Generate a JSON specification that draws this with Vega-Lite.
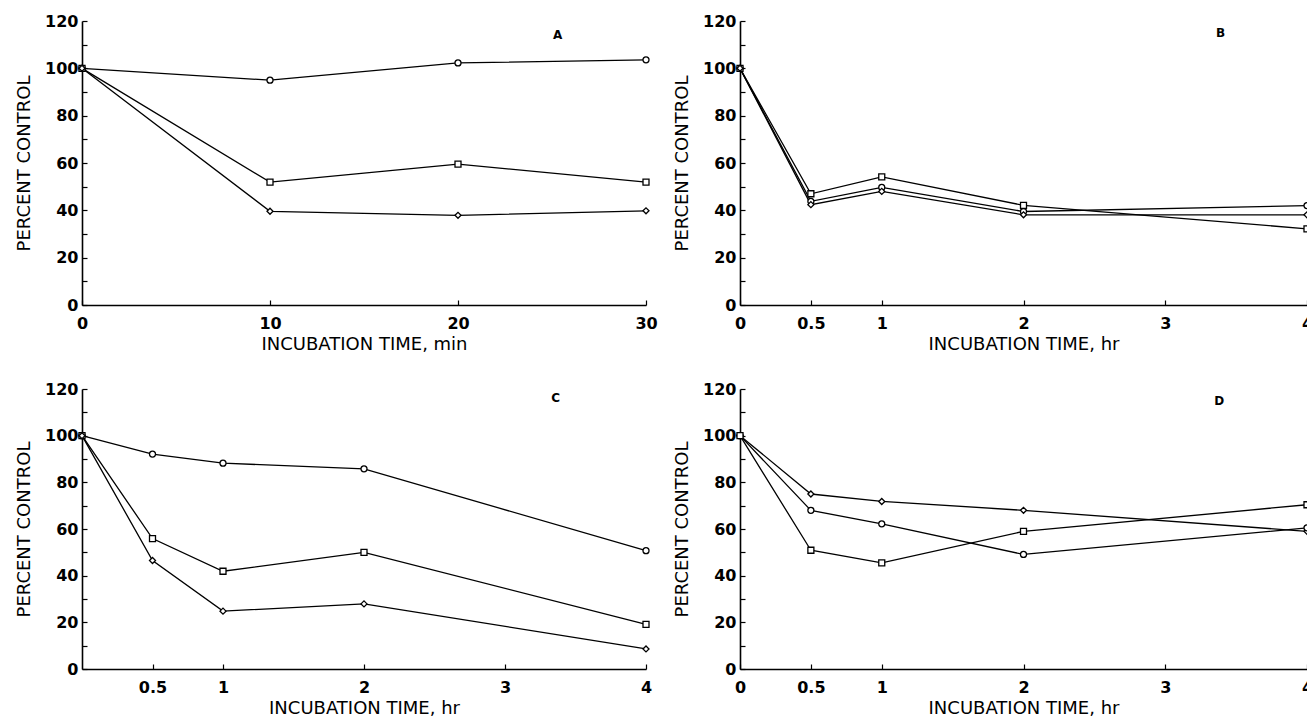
{
  "$schema": "https://vega.github.io/schema/vega-lite/v6.json",
  "background": "white",
  "padding": {"left": 15, "top": 13, "right": 0, "bottom": 0},
  "datasets": {
    "pts": [
      {"panel": "A", "series": "a", "time": 0, "pct": 100},
      {"panel": "A", "series": "a", "time": 10, "pct": 95.0},
      {"panel": "A", "series": "a", "time": 20, "pct": 102.3},
      {"panel": "A", "series": "a", "time": 30, "pct": 103.6},
      {"panel": "A", "series": "b", "time": 0, "pct": 100},
      {"panel": "A", "series": "b", "time": 10, "pct": 51.9},
      {"panel": "A", "series": "b", "time": 20, "pct": 59.5},
      {"panel": "A", "series": "b", "time": 30, "pct": 51.9},
      {"panel": "A", "series": "c", "time": 0, "pct": 100},
      {"panel": "A", "series": "c", "time": 10, "pct": 39.6},
      {"panel": "A", "series": "c", "time": 20, "pct": 37.9},
      {"panel": "A", "series": "c", "time": 30, "pct": 39.8},
      {"panel": "B", "series": "a", "time": 0, "pct": 100},
      {"panel": "B", "series": "a", "time": 0.5, "pct": 43.8},
      {"panel": "B", "series": "a", "time": 1, "pct": 49.7},
      {"panel": "B", "series": "a", "time": 2, "pct": 39.5},
      {"panel": "B", "series": "a", "time": 4, "pct": 42.0},
      {"panel": "B", "series": "b", "time": 0, "pct": 100},
      {"panel": "B", "series": "b", "time": 0.5, "pct": 47.0},
      {"panel": "B", "series": "b", "time": 1, "pct": 54.1},
      {"panel": "B", "series": "b", "time": 2, "pct": 42.1},
      {"panel": "B", "series": "b", "time": 4, "pct": 32.2},
      {"panel": "B", "series": "c", "time": 0, "pct": 100},
      {"panel": "B", "series": "c", "time": 0.5, "pct": 42.4},
      {"panel": "B", "series": "c", "time": 1, "pct": 48.0},
      {"panel": "B", "series": "c", "time": 2, "pct": 38.1},
      {"panel": "B", "series": "c", "time": 4, "pct": 38.1},
      {"panel": "C", "series": "a", "time": 0, "pct": 100},
      {"panel": "C", "series": "a", "time": 0.5, "pct": 92.1},
      {"panel": "C", "series": "a", "time": 1, "pct": 88.2},
      {"panel": "C", "series": "a", "time": 2, "pct": 85.8},
      {"panel": "C", "series": "a", "time": 4, "pct": 50.7},
      {"panel": "C", "series": "b", "time": 0, "pct": 100},
      {"panel": "C", "series": "b", "time": 0.5, "pct": 55.9},
      {"panel": "C", "series": "b", "time": 1, "pct": 41.9},
      {"panel": "C", "series": "b", "time": 2, "pct": 50.0},
      {"panel": "C", "series": "b", "time": 4, "pct": 19.1},
      {"panel": "C", "series": "c", "time": 0, "pct": 100},
      {"panel": "C", "series": "c", "time": 0.5, "pct": 46.5},
      {"panel": "C", "series": "c", "time": 1, "pct": 24.8},
      {"panel": "C", "series": "c", "time": 2, "pct": 27.9},
      {"panel": "C", "series": "c", "time": 4, "pct": 8.6},
      {"panel": "D", "series": "c", "time": 0, "pct": 100},
      {"panel": "D", "series": "c", "time": 0.5, "pct": 75.0},
      {"panel": "D", "series": "c", "time": 1, "pct": 71.8},
      {"panel": "D", "series": "c", "time": 2, "pct": 68.0},
      {"panel": "D", "series": "c", "time": 4, "pct": 59.0},
      {"panel": "D", "series": "a", "time": 0, "pct": 100},
      {"panel": "D", "series": "a", "time": 0.5, "pct": 68.0},
      {"panel": "D", "series": "a", "time": 1, "pct": 62.2},
      {"panel": "D", "series": "a", "time": 2, "pct": 49.1},
      {"panel": "D", "series": "a", "time": 4, "pct": 60.5},
      {"panel": "D", "series": "b", "time": 0, "pct": 100},
      {"panel": "D", "series": "b", "time": 0.5, "pct": 50.9},
      {"panel": "D", "series": "b", "time": 1, "pct": 45.5},
      {"panel": "D", "series": "b", "time": 2, "pct": 59.0},
      {"panel": "D", "series": "b", "time": 4, "pct": 70.4}
    ],
    "tags": [
      {"panel": "A", "time": 25.3, "pct": 114, "text": "A"},
      {"panel": "B", "time": 3.39, "pct": 115, "text": "B"},
      {"panel": "C", "time": 3.36, "pct": 116, "text": "C"},
      {"panel": "D", "time": 3.38, "pct": 115, "text": "D"}
    ]
  },
  "columns": 2,
  "spacing": {"row": 84, "column": 94},
  "bounds": "flush",
  "concat": [
    {
      "width": 564, "height": 284,
      "encoding": {
        "x": {"field": "time", "type": "quantitative", "scale": {"domain": [0, 30], "nice": false}, "axis": {"values": [0, 10, 20, 30], "labelExpr": "'' + datum.value", "title": "INCUBATION TIME, min"}},
        "y": {"field": "pct", "type": "quantitative", "scale": {"domain": [0, 120], "nice": false}, "axis": {"values": [0, 10, 20, 30, 40, 50, 60, 70, 80, 90, 100, 110, 120], "labelExpr": "datum.value % 20 == 0 ? datum.label : ''", "title": "PERCENT CONTROL"}}
      },
      "layer": [
        {"data": {"name": "pts"}, "transform": [{"filter": "datum.panel == 'A'"}], "mark": {"type": "line", "color": "black", "strokeWidth": 1.3}, "encoding": {"detail": {"field": "series"}}},
        {"data": {"name": "pts"}, "transform": [{"filter": "datum.panel == 'A'"}], "mark": {"type": "point", "filled": false, "fill": "white", "fillOpacity": 1, "stroke": "black", "strokeWidth": 1.3, "opacity": 1, "size": 36}, "encoding": {"shape": {"field": "series", "type": "nominal", "scale": {"domain": ["a", "b", "c"], "range": ["circle", "square", "diamond"]}, "legend": null}}},
        {"data": {"name": "tags"}, "transform": [{"filter": "datum.panel == 'A'"}], "mark": {"type": "text", "font": "DejaVu Sans", "fontWeight": "bold", "fontSize": 12, "color": "black"}, "encoding": {"text": {"field": "text"}}}
      ]
    },
    {
      "width": 567, "height": 284,
      "encoding": {
        "x": {"field": "time", "type": "quantitative", "scale": {"domain": [0, 4], "nice": false}, "axis": {"values": [0, 0.5, 1, 2, 3, 4], "labelExpr": "'' + datum.value", "title": "INCUBATION TIME, hr"}},
        "y": {"field": "pct", "type": "quantitative", "scale": {"domain": [0, 120], "nice": false}, "axis": {"values": [0, 10, 20, 30, 40, 50, 60, 70, 80, 90, 100, 110, 120], "labelExpr": "datum.value % 20 == 0 ? datum.label : ''", "title": "PERCENT CONTROL"}}
      },
      "layer": [
        {"data": {"name": "pts"}, "transform": [{"filter": "datum.panel == 'B'"}], "mark": {"type": "line", "color": "black", "strokeWidth": 1.3}, "encoding": {"detail": {"field": "series"}}},
        {"data": {"name": "pts"}, "transform": [{"filter": "datum.panel == 'B'"}], "mark": {"type": "point", "filled": false, "fill": "white", "fillOpacity": 1, "stroke": "black", "strokeWidth": 1.3, "opacity": 1, "size": 36}, "encoding": {"shape": {"field": "series", "type": "nominal", "scale": {"domain": ["a", "b", "c"], "range": ["circle", "square", "diamond"]}, "legend": null}}},
        {"data": {"name": "tags"}, "transform": [{"filter": "datum.panel == 'B'"}], "mark": {"type": "text", "font": "DejaVu Sans", "fontWeight": "bold", "fontSize": 12, "color": "black"}, "encoding": {"text": {"field": "text"}}}
      ]
    },
    {
      "width": 564, "height": 280,
      "encoding": {
        "x": {"field": "time", "type": "quantitative", "scale": {"domain": [0, 4], "nice": false}, "axis": {"values": [0.5, 1, 2, 3, 4], "labelExpr": "'' + datum.value", "title": "INCUBATION TIME, hr"}},
        "y": {"field": "pct", "type": "quantitative", "scale": {"domain": [0, 120], "nice": false}, "axis": {"values": [0, 10, 20, 30, 40, 50, 60, 70, 80, 90, 100, 110, 120], "labelExpr": "datum.value % 20 == 0 ? datum.label : ''", "title": "PERCENT CONTROL"}}
      },
      "layer": [
        {"data": {"name": "pts"}, "transform": [{"filter": "datum.panel == 'C'"}], "mark": {"type": "line", "color": "black", "strokeWidth": 1.3}, "encoding": {"detail": {"field": "series"}}},
        {"data": {"name": "pts"}, "transform": [{"filter": "datum.panel == 'C'"}], "mark": {"type": "point", "filled": false, "fill": "white", "fillOpacity": 1, "stroke": "black", "strokeWidth": 1.3, "opacity": 1, "size": 36}, "encoding": {"shape": {"field": "series", "type": "nominal", "scale": {"domain": ["a", "b", "c"], "range": ["circle", "square", "diamond"]}, "legend": null}}},
        {"data": {"name": "tags"}, "transform": [{"filter": "datum.panel == 'C'"}], "mark": {"type": "text", "font": "DejaVu Sans", "fontWeight": "bold", "fontSize": 12, "color": "black"}, "encoding": {"text": {"field": "text"}}}
      ]
    },
    {
      "width": 567, "height": 280,
      "encoding": {
        "x": {"field": "time", "type": "quantitative", "scale": {"domain": [0, 4], "nice": false}, "axis": {"values": [0, 0.5, 1, 2, 3, 4], "labelExpr": "'' + datum.value", "title": "INCUBATION TIME, hr"}},
        "y": {"field": "pct", "type": "quantitative", "scale": {"domain": [0, 120], "nice": false}, "axis": {"values": [0, 10, 20, 30, 40, 50, 60, 70, 80, 90, 100, 110, 120], "labelExpr": "datum.value % 20 == 0 ? datum.label : ''", "title": "PERCENT CONTROL"}}
      },
      "layer": [
        {"data": {"name": "pts"}, "transform": [{"filter": "datum.panel == 'D'"}], "mark": {"type": "line", "color": "black", "strokeWidth": 1.3}, "encoding": {"detail": {"field": "series"}}},
        {"data": {"name": "pts"}, "transform": [{"filter": "datum.panel == 'D'"}], "mark": {"type": "point", "filled": false, "fill": "white", "fillOpacity": 1, "stroke": "black", "strokeWidth": 1.3, "opacity": 1, "size": 36}, "encoding": {"shape": {"field": "series", "type": "nominal", "scale": {"domain": ["a", "b", "c"], "range": ["circle", "square", "diamond"]}, "legend": null}}},
        {"data": {"name": "tags"}, "transform": [{"filter": "datum.panel == 'D'"}], "mark": {"type": "text", "font": "DejaVu Sans", "fontWeight": "bold", "fontSize": 12, "color": "black"}, "encoding": {"text": {"field": "text"}}}
      ]
    }
  ],
  "config": {
    "view": {"stroke": null},
    "axis": {
      "grid": false,
      "domainColor": "black", "domainWidth": 1.6,
      "tickColor": "black", "tickWidth": 1.2, "tickSize": -5,
      "labelFont": "DejaVu Sans", "labelFontWeight": "bold", "labelFontSize": 16, "labelColor": "black",
      "labelFlush": false, "labelOverlap": false,
      "titleFont": "DejaVu Sans", "titleFontSize": 18, "titleFontWeight": "normal", "titleColor": "black"
    },
    "axisX": {"labelPadding": 15, "titlePadding": 4},
    "axisY": {"labelPadding": 9, "titlePadding": 11}
  }
}
